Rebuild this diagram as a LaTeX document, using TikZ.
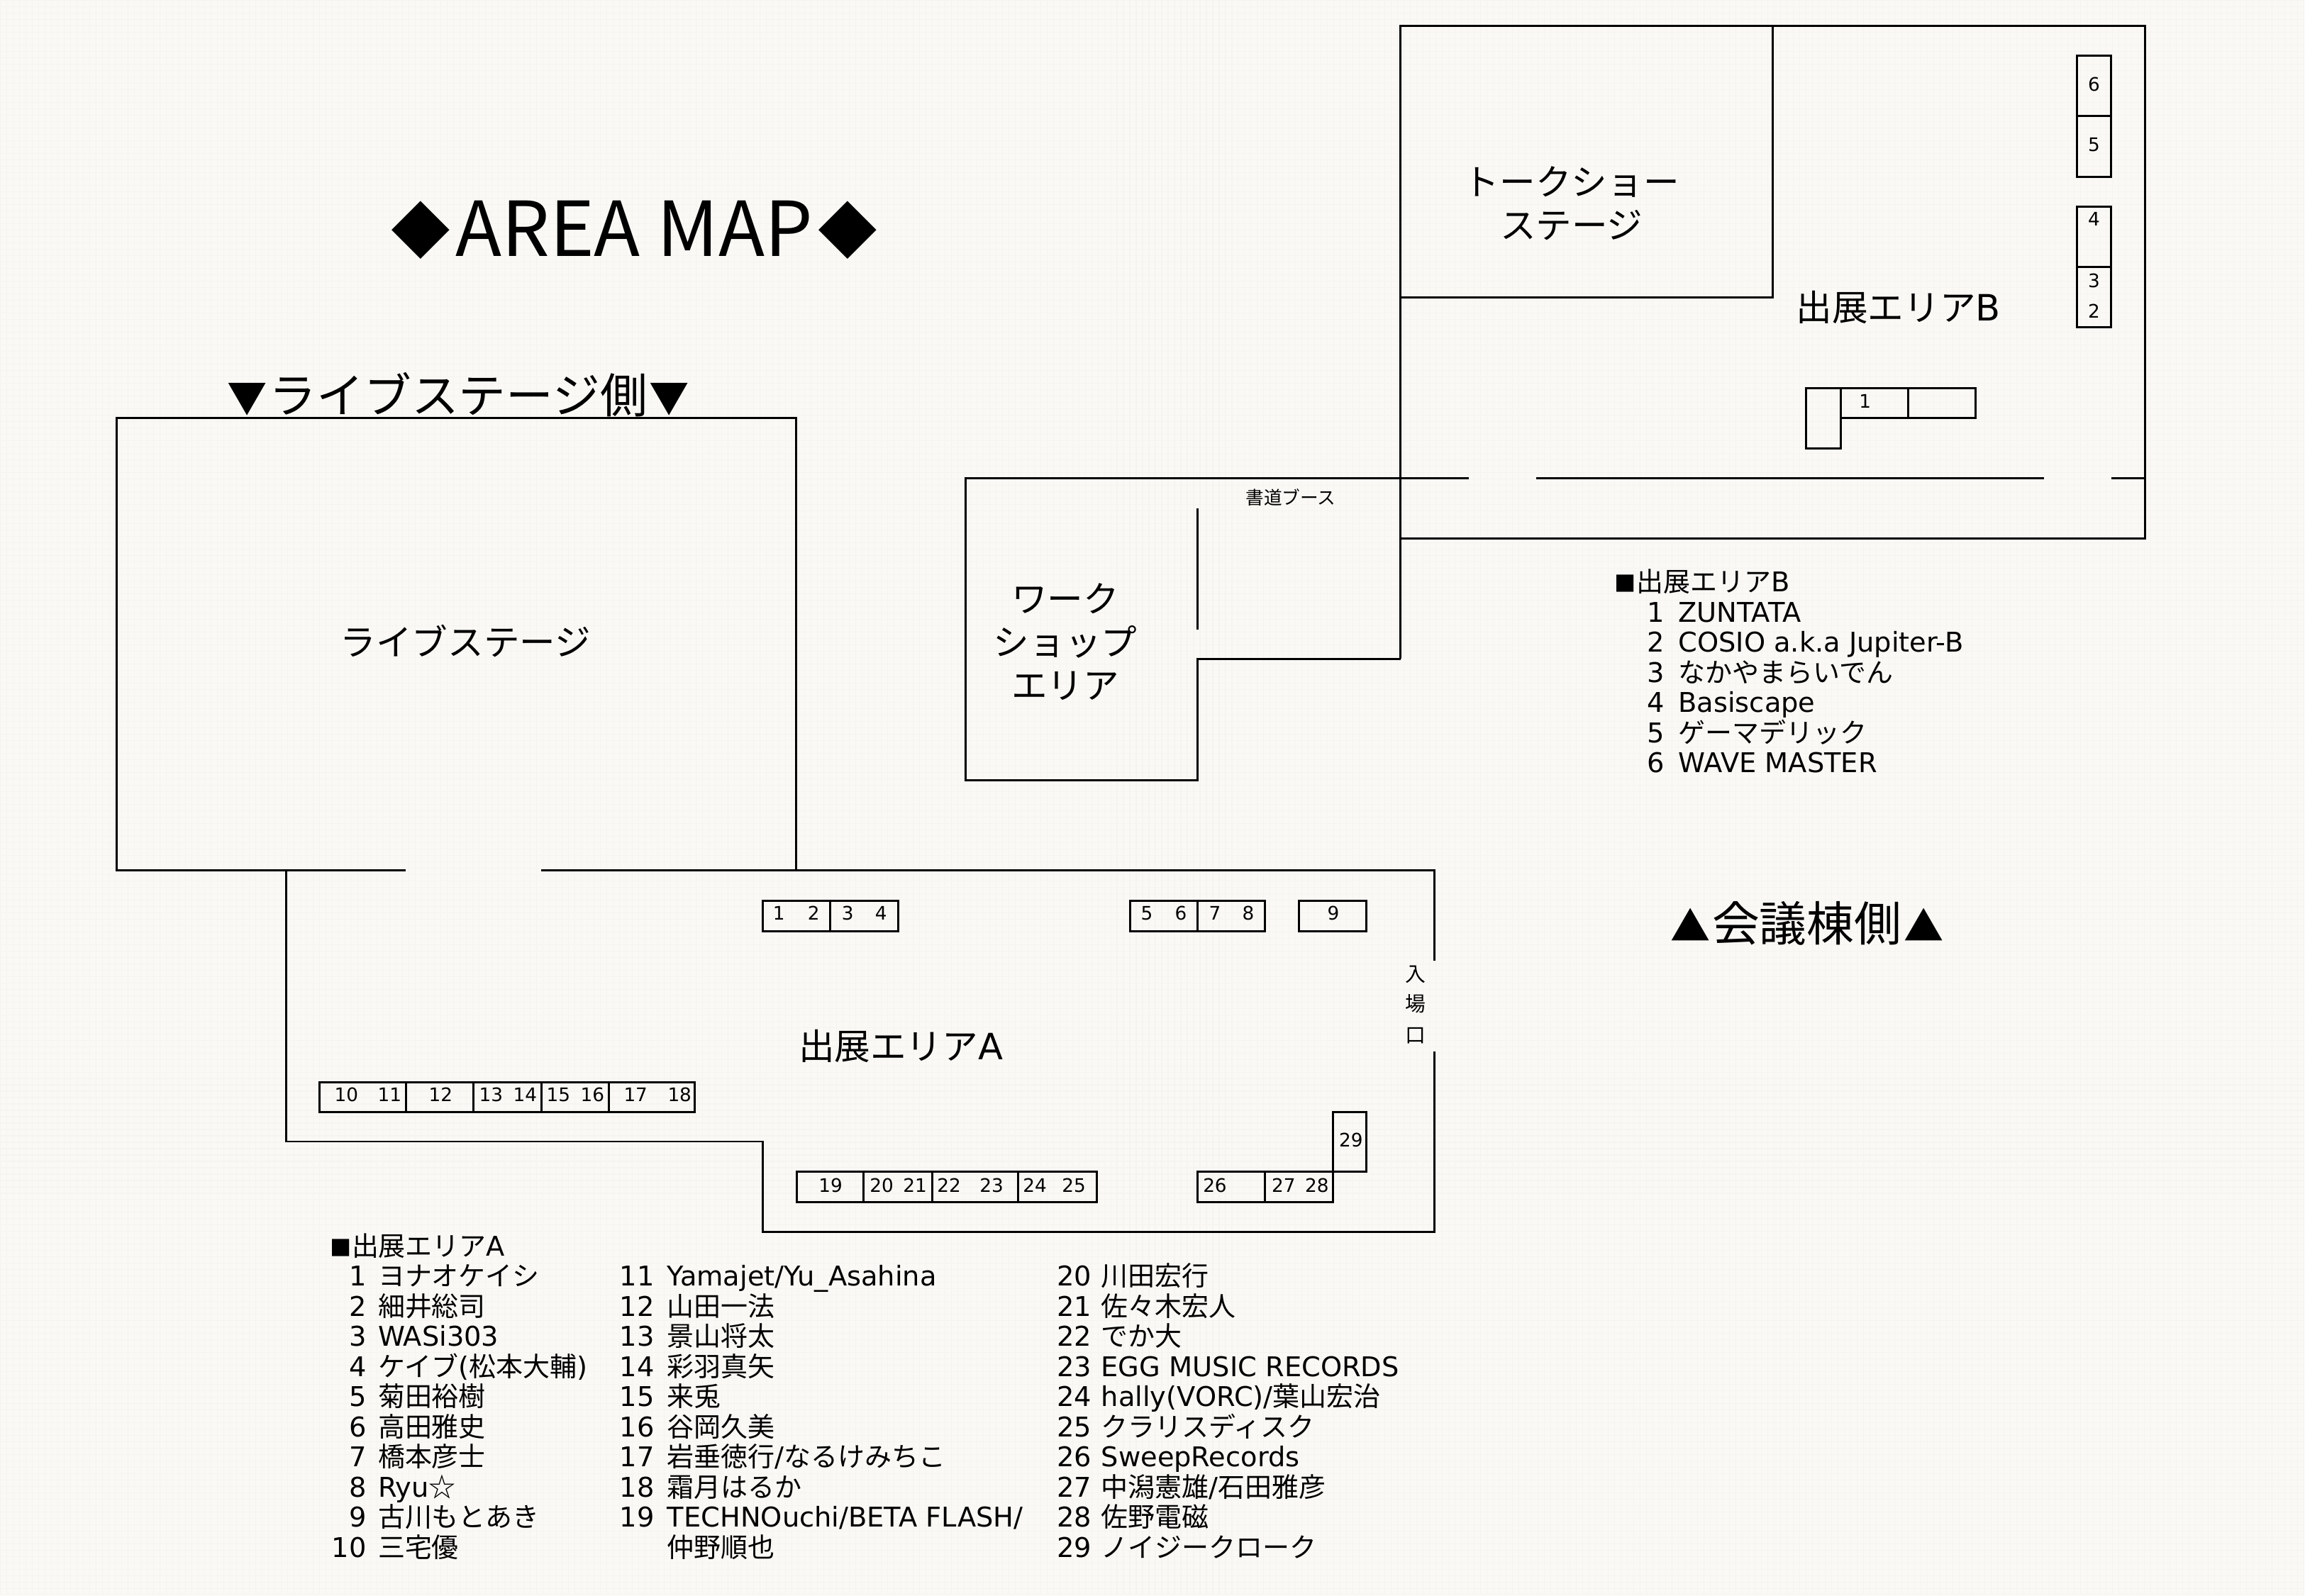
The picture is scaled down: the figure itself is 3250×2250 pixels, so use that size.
\documentclass[tikz,border=0pt]{standalone}
\usepackage{fontspec}
\setmainfont{Noto Sans CJK JP}
\newfontfamily\latinf[Scale=1.01]{DejaVu Sans}
\definecolor{paper}{RGB}{250,249,246}
\definecolor{weave}{RGB}{245,244,240}
\newcommand{\headmark}{\makebox[8.8pt][l]{\fontsize{8.6}{9}\selectfont ■}}
\tikzset{
    wall/.style={draw=black,line width=0.85pt},
    booth/.style={draw=black,line width=0.85pt},
    title/.style={inner sep=0pt,font=\fontsize{30.4}{34}\selectfont},
    side/.style={inner sep=0pt,font=\fontsize{19}{22}\selectfont},
    area/.style={inner sep=0pt,font=\fontsize{14.4}{17.3}\selectfont},
    num/.style={inner sep=0pt,font=\fontsize{7.4}{9}\selectfont\latinf},
    small/.style={inner sep=0pt,font=\fontsize{7.3}{9}\selectfont},
    gate/.style={inner sep=0pt,font=\fontsize{8.2}{10}\selectfont},
    listhead/.style={inner sep=0pt,anchor=base west,font=\fontsize{10.8}{13}\selectfont},
    listnum/.style={inner sep=0pt,anchor=base east,font=\fontsize{10.8}{13}\selectfont\latinf},
    listname/.style={inner sep=0pt,anchor=base west,font=\fontsize{10.8}{13}\selectfont}
}
\begin{document}
\begin{tikzpicture}[x=0.01cm,y=-0.01cm]
        % Fija el fondo del plano con el tamano de la pagina y su trama.
        \fill[paper] (0,0) rectangle (3250,2250);
        \foreach \x in {0,9,...,3250}
            \draw[weave,line width=0.3pt] (\x,0) -- (\x,2250);
        \foreach \y in {0,9,...,2250}
            \draw[weave,line width=0.3pt] (0,\y) -- (3250,\y);

        % Dibuja la sala del escenario y el contorno del area A.
        \draw[wall] (572,1227) -- (164,1227) -- (164,589) -- (1122,589) -- (1122,1227);
        \draw[wall] (763,1227) -- (2023,1227) -- (2023,1355);
        \draw[wall] (2023,1483) -- (2023,1738) -- (1075,1738) -- (1075,1610) -- (403,1610) -- (403,1227);

        % Dibuja el area B, la sala de charlas y el taller.
        \draw[wall] (1975,929) -- (1975,36) -- (3025,36) -- (3025,759) -- (1975,759);
        \draw[wall] (1975,419) -- (2500,419) -- (2500,36);
        \draw[wall] (2071,674) -- (1361,674) -- (1361,1100) -- (1689,1100) -- (1689,929) -- (1975,929);
        \draw[wall] (2166,674) -- (2882,674);
        \draw[wall] (2977,674) -- (3025,674);
        \draw[wall] (1689,717) -- (1689,888);

        % Dibuja los puestos de la fila superior del area A.
        \draw[booth] (1075,1270) rectangle (1170,1313);
        \draw[booth] (1170,1270) rectangle (1266,1313);
        \draw[booth] (1593,1270) rectangle (1689,1313);
        \draw[booth] (1689,1270) rectangle (1784,1313);
        \draw[booth] (1832,1270) rectangle (1927,1313);

        % Dibuja los puestos de la fila central del area A.
        \draw[booth] (450,1526) rectangle (572,1568);
        \draw[booth] (572,1526) rectangle (667,1568);
        \draw[booth] (667,1526) rectangle (763,1568);
        \draw[booth] (763,1526) rectangle (858,1568);
        \draw[booth] (858,1526) rectangle (979,1568);

        % Dibuja los puestos de la fila inferior del area A.
        \draw[booth] (1123,1653) rectangle (1217,1696);
        \draw[booth] (1217,1653) rectangle (1314,1696);
        \draw[booth] (1314,1653) rectangle (1435,1696);
        \draw[booth] (1435,1653) rectangle (1546,1696);
        \draw[booth] (1689,1653) rectangle (1784,1696);
        \draw[booth] (1784,1653) rectangle (1880,1696);
        \draw[booth] (1880,1568) rectangle (1927,1653);

        % Dibuja los puestos del area B.
        \draw[booth] (2929,78) rectangle (2977,163);
        \draw[booth] (2929,163) rectangle (2977,249);
        \draw[booth] (2929,291) rectangle (2977,376);
        \draw[booth] (2929,376) rectangle (2977,461);
        \draw[booth] (2547,547) rectangle (2596,632);
        \draw[booth] (2596,547) rectangle (2691,589);
        \draw[booth] (2691,547) rectangle (2786,589);

        % Escribe los titulos y los nombres de las salas.
        \node[title] (maptitle) at (894,324) {\raisebox{1.5pt}{\fontsize{23.8}{26}\selectfont ◆}\hspace{2pt}AREA MAP\hspace{2pt}\raisebox{1.5pt}{\fontsize{23.8}{26}\selectfont ◆}};
        \node[side] (liveside) at (646,556) {{\fontsize{16}{20}\selectfont ▼}\hspace{0.8pt}ライブステージ側\hspace{0.8pt}{\fontsize{16}{20}\selectfont ▼}};
        \node[side] (hallside) at (2548,1302) {{\fontsize{16}{20}\selectfont ▲}\hspace{0.8pt}会議棟側\hspace{0.8pt}{\fontsize{16}{20}\selectfont ▲}};
        \node[area] (stage) at (656,904) {ライブステージ};
        \node[area,align=center] (talk) at (2216,286) {トークショー\\ステージ};
        \node[area,align=center] (workshop) at (1502,905) {ワーク\\ショップ\\エリア};
        \node[area] (areaA) at (1270,1475) {出展エリア{\latinf A}};
        \node[area] (areaB) at (2677,433) {出展エリア{\latinf B}};
        \node[small] (shodo) at (1820,701) {書道ブース};
        \node[gate] (gateA) at (1996,1374) {入};
        \node[gate] (gateB) at (1996,1416) {場};
        \node[gate] (gateC) at (1996,1461) {口};

        % Numera los puestos del area A.
        \foreach \n/\x in {1/1098,2/1147,3/1195,4/1242,5/1617,6/1665,7/1713,8/1760,9/1880}
            \node[num] (a\n) at (\x,1288) {\n};
        \foreach \n/\x in {10/488,11/549,12/621,13/692,14/740,15/787,16/835,17/896,18/958}
            \node[num] (a\n) at (\x,1544) {\n};
        \foreach \n/\x in {19/1171,20/1243,21/1290,22/1338,23/1398,24/1459,25/1514,26/1713,27/1810,28/1857}
            \node[num] (a\n) at (\x,1672) {\n};
        \node[num] (a29) at (1905,1608) {29};

        % Numera los puestos del area B.
        \foreach \n/\y in {2/438,3/396,4/309,5/204,6/118}
            \node[num] (b\n) at (2953,\y) {\n};
        \node[num] (b1) at (2630,566) {1};

        % Escribe la lista del area A en tres columnas.
        \node[listhead] (headA) at (464,1772) {\headmark 出展エリア{\latinf A}};
        \foreach \n/\t [count=\i from 0] in {1/ヨナオケイシ,2/細井総司,3/{\latinf WASi303},4/{ケイブ{\latinf (}松本大輔{\latinf )}},5/菊田裕樹,6/高田雅史,7/橋本彦士,8/{{\latinf Ryu}☆},9/古川もとあき,10/三宅優}{
            \node[listnum] (numA\n) at (517,{1814+42.5*\i}) {\n};
            \node[listname] (nameA\n) at (532,{1814+42.5*\i}) {\t};
        }
        \foreach \n/\t [count=\i from 0] in {11/{\latinf Yamajet/Yu\_Asahina},12/山田一法,13/景山将太,14/彩羽真矢,15/来兎,16/谷岡久美,17/{岩垂徳行{\latinf /}なるけみちこ},18/霜月はるか,19/{\latinf TECHNOuchi/BETA FLASH/}}{
            \node[listnum] (numA\n) at (923,{1814+42.5*\i}) {\n};
            \node[listname] (nameA\n) at (940,{1814+42.5*\i}) {\t};
        }
        \node[listname] (nameAextra) at (940,2197) {仲野順也};
        \foreach \n/\t [count=\i from 0] in {20/川田宏行,21/佐々木宏人,22/{でか大},23/{\latinf EGG MUSIC RECORDS},24/{{\latinf hally(VORC)/}葉山宏治},25/クラリスディスク,26/{\latinf SweepRecords},27/{中潟憲雄{\latinf /}石田雅彦},28/佐野電磁,29/ノイジークローク}{
            \node[listnum] (numA\n) at (1540,{1814+42.5*\i}) {\n};
            \node[listname] (nameA\n) at (1552,{1814+42.5*\i}) {\t};
        }

        % Escribe la lista del area B.
        \node[listhead] (headB) at (2276,834) {\headmark 出展エリア{\latinf B}};
        \foreach \n/\t [count=\i from 0] in {1/{\latinf ZUNTATA},2/{\latinf COSIO a.k.a Jupiter-B},3/なかやまらいでん,4/{\latinf Basiscape},5/ゲーマデリック,6/{\latinf WAVE MASTER}}{
            \node[listnum] (numB\n) at (2348,{877+42.5*\i}) {\n};
            \node[listname] (nameB\n) at (2366,{877+42.5*\i}) {\t};
        }
    \end{tikzpicture}
\end{document}
